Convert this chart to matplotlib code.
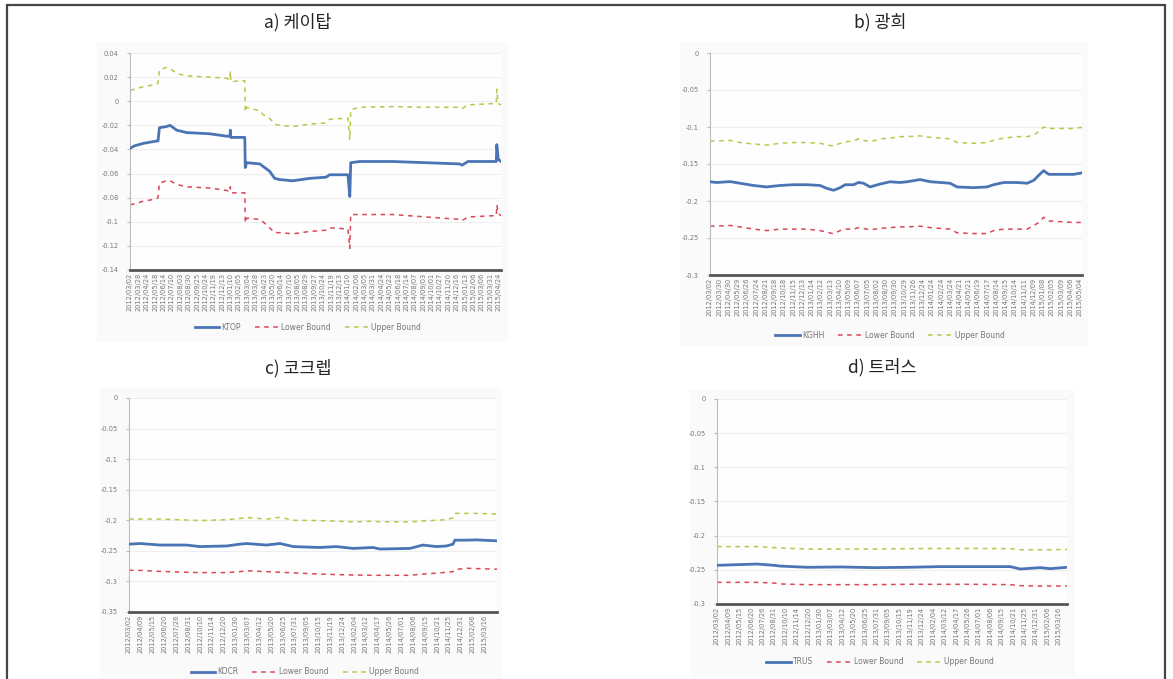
import matplotlib
matplotlib.use("Agg")
import matplotlib.pyplot as plt
from matplotlib.patches import Rectangle
from matplotlib.ticker import FuncFormatter

plt.rcParams['font.family'] = ['Noto Sans CJK KR', 'DejaVu Sans']

W, H = 1173, 679

# ---- tick labels (trading-day axis, 0..795) ----
dates_a = ["2012/03/02", "2012/03/28", "2012/04/24", "2012/05/18", "2012/06/14", "2012/07/10",
           "2012/08/03", "2012/08/30", "2012/09/25", "2012/10/24", "2012/11/19", "2012/12/13",
           "2013/01/10", "2013/02/05", "2013/03/04", "2013/03/28", "2013/04/23", "2013/05/20",
           "2013/06/14", "2013/07/10", "2013/08/05", "2013/08/29", "2013/09/27", "2013/10/24",
           "2013/11/19", "2013/12/13", "2014/01/10", "2014/02/06", "2014/03/05", "2014/03/31",
           "2014/04/24", "2014/05/22", "2014/06/18", "2014/07/14", "2014/08/07", "2014/09/03",
           "2014/10/01", "2014/10/27", "2014/11/20", "2014/12/16", "2015/01/13", "2015/02/06",
           "2015/03/06", "2015/03/31", "2015/04/24"]
dates_b = ["2012/03/02", "2012/03/30", "2012/04/30", "2012/05/29", "2012/06/26", "2012/07/24",
           "2012/08/21", "2012/09/18", "2012/10/18", "2012/11/15", "2012/12/13", "2013/01/14",
           "2013/02/12", "2013/03/13", "2013/04/10", "2013/05/09", "2013/06/07", "2013/07/05",
           "2013/08/02", "2013/08/30", "2013/09/30", "2013/10/29", "2013/11/26", "2013/12/24",
           "2014/01/24", "2014/02/24", "2014/03/24", "2014/04/21", "2014/05/21", "2014/06/19",
           "2014/07/17", "2014/08/14", "2014/09/15", "2014/10/14", "2014/11/11", "2014/12/09",
           "2015/01/08", "2015/02/05", "2015/03/09", "2015/04/06", "2015/05/04"]
dates_cd = ["2012/03/02", "2012/04/09", "2012/05/15", "2012/06/20", "2012/07/26", "2012/08/31",
            "2012/10/10", "2012/11/14", "2012/12/20", "2013/01/30", "2013/03/07", "2013/04/12",
            "2013/05/20", "2013/06/25", "2013/07/31", "2013/09/05", "2013/10/15", "2013/11/19",
            "2013/12/24", "2014/02/04", "2014/03/12", "2014/04/17", "2014/05/26", "2014/07/01",
            "2014/08/06", "2014/09/15", "2014/10/21", "2014/11/25", "2014/12/31", "2015/02/06",
            "2015/03/16"]

# ---- a) 케이탑 ----
days_a = [0, 10, 28, 57, 60, 63, 78, 86, 100, 121, 171, 207, 214, 215, 216, 235, 246, 247,
          250, 278, 285, 299, 310, 321, 349, 385, 420, 428, 467, 471, 473, 492, 563, 634,
          706, 712, 724, 777, 785, 786, 789, 795]
ktop = [-0.039, -0.037, -0.035, -0.033, -0.033, -0.022, -0.021, -0.020, -0.024, -0.026,
        -0.027, -0.029, -0.029, -0.024, -0.030, -0.030, -0.030, -0.055, -0.051, -0.052,
        -0.054, -0.058, -0.064, -0.065, -0.066, -0.064, -0.063, -0.061, -0.061, -0.079,
        -0.051, -0.050, -0.050, -0.051, -0.052, -0.053, -0.050, -0.050, -0.050, -0.036,
        -0.048, -0.050]
ktop_lo = [-0.086, -0.085, -0.083, -0.081, -0.080, -0.068, -0.066, -0.066, -0.069, -0.071,
           -0.072, -0.074, -0.075, -0.071, -0.076, -0.076, -0.076, -0.101, -0.097, -0.098,
           -0.100, -0.105, -0.109, -0.109, -0.110, -0.108, -0.107, -0.105, -0.106, -0.122,
           -0.094, -0.094, -0.094, -0.096, -0.098, -0.099, -0.096, -0.095, -0.095, -0.086,
           -0.093, -0.095]
ktop_up = [0.009, 0.010, 0.012, 0.014, 0.015, 0.026, 0.028, 0.027, 0.023, 0.021,
           0.020, 0.019, 0.018, 0.025, 0.016, 0.017, 0.017, -0.009, -0.005, -0.008,
           -0.011, -0.014, -0.019, -0.020, -0.021, -0.019, -0.018, -0.015, -0.014, -0.032,
           -0.007, -0.005, -0.0045, -0.005, -0.005, -0.006, -0.003, -0.002, -0.002, 0.010,
           -0.002, -0.003]

# ---- b) 광희 ----
days_b = [0, 14, 43, 64, 93, 121, 150, 178, 207, 235, 250, 264, 278, 289, 307, 317, 328,
          342, 364, 385, 406, 421, 449, 471, 492, 513, 528, 563, 592, 606, 628, 656, 678,
          692, 703, 713, 724, 749, 777, 795]
kghh = [-0.174, -0.175, -0.1738, -0.176, -0.179, -0.181, -0.179, -0.178, -0.178, -0.179,
        -0.183, -0.1855, -0.182, -0.178, -0.178, -0.175, -0.176, -0.181, -0.177, -0.174,
        -0.175, -0.174, -0.171, -0.174, -0.175, -0.176, -0.181, -0.182, -0.181, -0.178,
        -0.175, -0.175, -0.176, -0.172, -0.165, -0.159, -0.164, -0.164, -0.164, -0.162]
kghh_lo = [-0.234, -0.234, -0.233, -0.235, -0.238, -0.240, -0.238, -0.238, -0.238, -0.240,
           -0.242, -0.2443, -0.240, -0.238, -0.238, -0.236, -0.237, -0.239, -0.237, -0.236,
           -0.235, -0.235, -0.234, -0.236, -0.237, -0.238, -0.243, -0.244, -0.244, -0.240,
           -0.238, -0.238, -0.238, -0.233, -0.229, -0.222, -0.227, -0.228, -0.229, -0.229]
kghh_up = [-0.119, -0.119, -0.118, -0.121, -0.123, -0.1244, -0.122, -0.121, -0.121, -0.122,
           -0.124, -0.1258, -0.122, -0.120, -0.119, -0.116, -0.118, -0.120, -0.116, -0.115,
           -0.113, -0.113, -0.112, -0.114, -0.115, -0.116, -0.121, -0.122, -0.121, -0.118,
           -0.115, -0.113, -0.113, -0.111, -0.106, -0.100, -0.102, -0.102, -0.102, -0.1005]

# ---- c) 코크렙 ----
days_c = [0, 24, 67, 124, 153, 211, 240, 254, 297, 326, 355, 412, 448, 484, 527, 542, 607,
          635, 664, 686, 700, 704, 729, 750, 795]
kocr = [-0.239, -0.238, -0.2405, -0.2405, -0.243, -0.242, -0.239, -0.238, -0.2405, -0.238,
        -0.243, -0.2445, -0.243, -0.246, -0.2445, -0.247, -0.246, -0.2405, -0.243, -0.242,
        -0.239, -0.2325, -0.2325, -0.232, -0.2336]
kocr_lo = [-0.2817, -0.282, -0.2835, -0.285, -0.2856, -0.2856, -0.284, -0.2825, -0.284,
           -0.285, -0.286, -0.288, -0.2888, -0.2895, -0.290, -0.290, -0.290, -0.288, -0.2865,
           -0.285, -0.284, -0.2806, -0.2785, -0.279, -0.280]
kocr_up = [-0.198, -0.198, -0.198, -0.1995, -0.2005, -0.199, -0.197, -0.1955, -0.198, -0.195,
           -0.200, -0.2005, -0.2015, -0.2025, -0.2015, -0.2025, -0.2025, -0.201, -0.200,
           -0.199, -0.196, -0.1887, -0.1887, -0.1887, -0.1898]

# ---- d) 트러스 ----
days_d = [0, 91, 129, 144, 204, 280, 356, 432, 507, 583, 666, 689, 734, 757, 795]
trus = [-0.2434, -0.2415, -0.2434, -0.2445, -0.2463, -0.2458, -0.2468, -0.2463, -0.2453,
        -0.2453, -0.2453, -0.2488, -0.2468, -0.2483, -0.2463]
trus_lo = [-0.2683, -0.2683, -0.2693, -0.2707, -0.2717, -0.2717, -0.2717, -0.2712, -0.2712,
           -0.2712, -0.2717, -0.2732, -0.2737, -0.2737, -0.2737]
trus_up = [-0.216, -0.216, -0.2175, -0.218, -0.2196, -0.2196, -0.2196, -0.219, -0.2187,
           -0.2187, -0.219, -0.2206, -0.2206, -0.2206, -0.2201]

fig = plt.figure(figsize=(W / 100, H / 100), dpi=100)
fig.patch.set_facecolor('white')

# outer frame
fig.add_artist(Rectangle((7 / W, -0.02), (1165 - 7) / W, 1.02 - 5 / H, transform=fig.transFigure,
                         fill=False, edgecolor='#444444', linewidth=1.6))


def px_axes(l, t, r, b):
    return fig.add_axes([l / W, 1 - b / H, (r - l) / W, (b - t) / H])


def fmt(v, _):
    return "0" if abs(v) < 1e-9 else f"{round(v, 3):g}"


panels = [
    dict(title="a) 케이탑", tx=298, ty=22, box=(130, 53, 501, 270), bg=(97, 42, 508, 342),
         x=days_a, s=(ktop, ktop_lo, ktop_up), name="KTOP", ylim=(-0.14, 0.04), step=0.02,
         labels=dates_a, last=790, leg=(308, 327)),
    dict(title="b) 광희", tx=880, ty=22, box=(710, 53, 1082, 275), bg=(680, 42, 1088, 345),
         x=days_b, s=(kghh, kghh_lo, kghh_up), name="KGHH", ylim=(-0.3, 0.0), step=0.05,
         labels=dates_b, last=790, leg=(890, 335)),
    dict(title="c) 코크렙", tx=298, ty=368, box=(129, 398, 497, 612), bg=(100, 388, 502, 679),
         x=days_c, s=(kocr, kocr_lo, kocr_up), name="KOCR", ylim=(-0.35, 0.0), step=0.05,
         labels=dates_cd, last=768, leg=(305, 672)),
    dict(title="d) 트러스", tx=882, ty=367, box=(717, 399, 1067, 604), bg=(690, 390, 1075, 676),
         x=days_d, s=(trus, trus_lo, trus_up), name="TRUS", ylim=(-0.3, 0.0), step=0.05,
         labels=dates_cd, last=776, leg=(880, 662)),
]

for p in panels:
    bl, bt, br, bb = p['bg']
    fig.add_artist(Rectangle((bl / W, 1 - bb / H), (br - bl) / W, (bb - bt) / H,
                             transform=fig.transFigure, facecolor='#fafafa', edgecolor='none',
                             zorder=0))
    ax = px_axes(*p['box'])
    ax.set_facecolor('#fefefe')
    main, lo, up = p['s']
    ax.plot(p['x'], main, color='#4a74b4', lw=2.0, label=p['name'], zorder=3)
    ax.plot(p['x'], lo, color='#d9475a', lw=1.1, ls=(0, (3, 3)), label='Lower Bound', zorder=2)
    ax.plot(p['x'], up, color='#bcc44a', lw=1.1, ls=(0, (3, 3)), label='Upper Bound', zorder=2)

    y0, y1 = p['ylim']
    ax.set_ylim(y0, y1)
    n = int(round((y1 - y0) / p['step']))
    ax.set_yticks([y0 + i * p['step'] for i in range(n + 1)])
    ax.yaxis.set_major_formatter(FuncFormatter(fmt))
    ax.grid(axis='y', color='#eeeeee', lw=0.8)
    ax.set_axisbelow(True)

    nl = len(p['labels'])
    ax.set_xticks([p['last'] * i / (nl - 1) for i in range(nl)])
    ax.set_xticklabels(p['labels'], rotation=90, fontsize=4.8, color='#777777',
                       family='DejaVu Sans')
    ax.set_xlim(0, 795)

    ax.tick_params(axis='y', labelsize=4.8, labelcolor='#777777', length=2, color='#bbbbbb', pad=6)
    ax.tick_params(axis='x', length=0, pad=2)
    for lab in ax.get_yticklabels():
        lab.set_family('DejaVu Sans')
    for sp in ('top', 'right'):
        ax.spines[sp].set_visible(False)
    ax.spines['left'].set_color('#bbbbbb')
    ax.spines['left'].set_linewidth(0.8)
    ax.spines['bottom'].set_color('#555555')
    ax.spines['bottom'].set_linewidth(2.0)

    lx, ly = p['leg']
    ax.legend(loc='center', bbox_to_anchor=(lx / W, 1 - ly / H),
              bbox_transform=fig.transFigure, ncol=3, frameon=False,
              handlelength=3.2, columnspacing=1.8, handletextpad=0.3,
              labelcolor='#777777', prop={'family': 'DejaVu Sans', 'size': 5.5})

    fig.text(p['tx'] / W, 1 - p['ty'] / H, p['title'], ha='center', va='center', fontsize=12.5,
             color='#222222', family=['Noto Sans CJK KR', 'DejaVu Sans'])

fig.savefig("out.png", dpi=100, facecolor='white')
